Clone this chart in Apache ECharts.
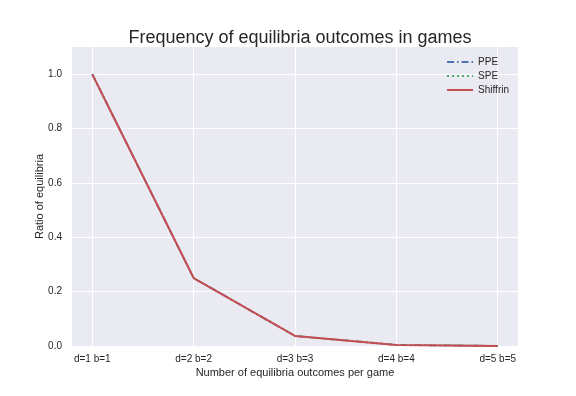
<!DOCTYPE html>
<html><head><meta charset="utf-8">
<script src="https://cdn.jsdelivr.net/npm/echarts@6/dist/echarts.min.js"></script>
<style>html,body{margin:0;padding:0;background:#fff}#c{width:576px;height:396px}</style>
</head><body><div id="c"></div>
<script>
const categories = ['d=1 b=1','d=2 b=2','d=3 b=3','d=4 b=4','d=5 b=5'];
const ppe = [1.0, 0.25, 0.037, 0.004, 0.0003];
const spe = [1.0, 0.25, 0.037, 0.004, 0.0003];
const shiffrin = [1.0, 0.25, 0.037, 0.004, 0.0003];
const yTicks = [0, 0.2, 0.4, 0.6, 0.8, 1.0];

const font = 'Liberation Sans, Arial, sans-serif';
const chart = echarts.init(document.getElementById('c'), null, {renderer:'canvas'});
const pts = arr => arr.map((v,i)=>[i,v]);
chart.setOption({
  animation:false,
  backgroundColor:'#ffffff',
  title:{text:'Frequency of equilibria outcomes in games', left:295, textAlign:'center', top:24,
    textStyle:{fontFamily:font, fontSize:18, fontWeight:'normal', color:'#262626'}},
  grid:{left:72, right:58, top:47, bottom:50, show:true, backgroundColor:'#EAEAF2', borderWidth:0},
  legend:{orient:'vertical', right:62, top:52, itemGap:4, itemWidth:26, itemHeight:10,
    itemStyle:{opacity:0},
    textStyle:{fontFamily:font, fontSize:10, color:'#262626'},
    data:['PPE','SPE','Shiffrin']},
  xAxis:{type:'value', min:-0.2, max:4.2,
    name:'Number of equilibria outcomes per game', nameLocation:'middle', nameGap:21, nameMoveOverlap:false,
    nameTextStyle:{fontFamily:font, fontSize:11, color:'#262626'},
    axisLine:{show:false}, axisTick:{show:false, customValues:[0,1,2,3,4]},
    axisLabel:{customValues:[0,1,2,3,4], formatter:v=>categories[Math.round(v)], fontFamily:font, fontSize:10, color:'#262626', margin:8},
    splitLine:{show:true, lineStyle:{color:'#ffffff', width:1}}},
  yAxis:{type:'value', min:0, max:1.1,
    name:'Ratio of equilibria', nameLocation:'middle', nameGap:27, nameMoveOverlap:false,
    nameTextStyle:{fontFamily:font, fontSize:11, color:'#262626'},
    axisLine:{show:false}, axisTick:{show:false, customValues:yTicks},
    axisLabel:{customValues:yTicks, formatter:v=>v.toFixed(1), fontFamily:font, fontSize:10, color:'#262626', margin:10},
    splitLine:{show:true, lineStyle:{color:'#ffffff', width:1}}},
  series:[
    {name:'PPE', type:'line', data:pts(ppe), symbol:'none', lineStyle:{color:'#4C72B0', width:1.8, type:[7,3,1.5,3]}, itemStyle:{color:'#4C72B0'}},
    {name:'SPE', type:'line', data:pts(spe), symbol:'none', lineStyle:{color:'#55A868', width:1.8, type:[2,3]}, itemStyle:{color:'#55A868'}},
    {name:'Shiffrin', type:'line', data:pts(shiffrin), symbol:'none', lineStyle:{color:'#C44E52', width:2}, itemStyle:{color:'#C44E52'}}
  ]
});
</script></body></html>
